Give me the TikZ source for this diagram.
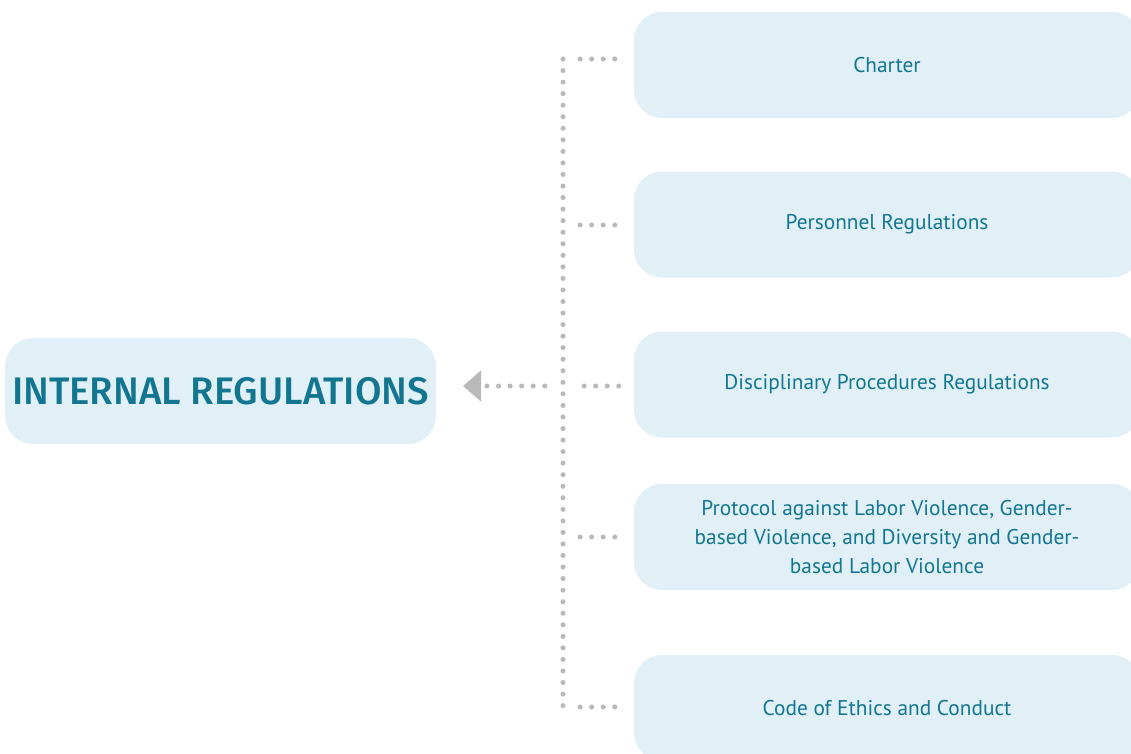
\documentclass[tikz,border=0pt]{standalone}
\usepackage{fontspec}
\setmainfont{PT Sans}
\newfontfamily\headfont{Fira Sans Medium}
\usetikzlibrary{positioning,arrows.meta}
\definecolor{boxfill}{RGB}{224,240,246}
\definecolor{boxtext}{RGB}{18,118,145}
\definecolor{dotgray}{RGB}{185,185,185}
\tikzset{
  regbox/.style={fill=boxfill, rounded corners=21pt, minimum width=379.5pt,
    minimum height=79.5pt, inner sep=0pt, text=boxtext, align=center,
    font=\fontsize{16}{21.4}\selectfont},
  dotline/.style={dotgray, line width=3.8pt, line cap=round,
    dash pattern=on 0pt off 8.66pt},
}
\begin{document}
\begin{tikzpicture}[x=0.75pt,y=-0.75pt]
\useasboundingbox (0,0) rectangle (1131,753);
\node[regbox, minimum width=323pt, font=\headfont\fontsize{28.8}{32}\selectfont] (internal) at (220.5,391) {INTERNAL REGULATIONS};
\node[regbox] (charter) at (887,65) {Charter};
\node[regbox] (personnel) at (887,224.5) {Personnel Regulations};
\node[regbox] (disc) at (887,384.5) {Disciplinary Procedures Regulations};
\node[regbox] (protocol) at (887,537) {Protocol against Labor Violence, Gender-\\based Violence, and Diversity and Gender-\\based Labor Violence};
\node[regbox] (code) at (887,708) {Code of Ethics and Conduct};
% trunk and stubs
\coordinate (trunktop) at (563,59);
\coordinate (trunkbot) at (563,706);
\coordinate (arrowtip) at (463,386);
\draw[dotline] (trunktop) -- (trunkbot);
\draw[dotline] (charter.west) ++(-19,-6) -- ++(-37,0);
\draw[dotline] (personnel.west) ++(-19,0.5) -- ++(-37,0);
\draw[dotline] (disc.west) ++(-15,1.5) -- ++(-37,0);
\draw[dotline] (protocol.west) ++(-19,0) -- ++(-37,0);
\draw[dotline] (code.west) ++(-19,-1) -- ++(-37,0);
\draw[dotline, -{Triangle[length=13.5pt,width=22.5pt]}] (disc.west) ++(-89,1.5) -- (arrowtip);
\end{tikzpicture}
\end{document}
